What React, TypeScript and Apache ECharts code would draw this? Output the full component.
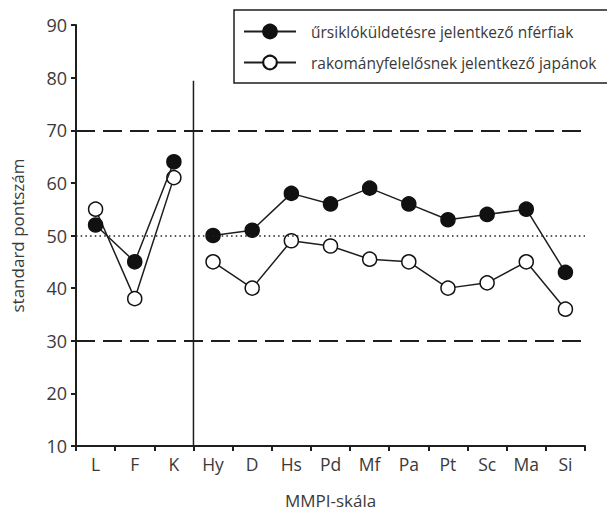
import React, { useEffect, useRef } from "react";
import * as echarts from "echarts";

const categories = ["L", "F", "K", "Hy", "D", "Hs", "Pd", "Mf", "Pa", "Pt", "Sc", "Ma", "Si"];
const applicants = [52, 45, 64, 50, 51, 58, 56, 59, 56, 53, 54, 55, 43];
const japanese = [55, 38, 61, 45, 40, 49, 48, 45.5, 45, 40, 41, 45, 36];
const seriesNames = [
  "űrsiklóküldetésre jelentkező nférfiak",
  "rakományfelelősnek jelentkező japánok",
];
const yMin = 10;
const yMax = 90;
const yInterval = 10;
const dashedLevels = [70, 30];
const dottedLevel = 50;
const validityCount = 3; // L, F, K are separated from the clinical scales
const separatorTop = 79.4;

const FONT = "'Open Sans', 'Noto Sans', sans-serif";
const INK = "#1e1e1e";
const TEXT = "#3a3a3a";

function split(values: number[], first: boolean) {
  return values.map((v, i) => ((i < validityCount) === first ? v : "-"));
}

export default function App() {
  const ref = useRef<HTMLDivElement>(null);
  useEffect(() => {
    if (!ref.current) return;
    const chart = echarts.init(ref.current, undefined, { renderer: "svg" });

    const mk = (name: string, data: any[], filled: boolean, extra: any = {}) => ({
      type: "line",
      name,
      data,
      xAxisIndex: 0,
      yAxisIndex: 0,
      symbol: "circle",
      symbolSize: 14,
      showAllSymbol: true,
      connectNulls: false,
      itemStyle: { color: filled ? "#111" : "#fff", borderColor: "#111", borderWidth: 1.5 },
      lineStyle: { color: INK, width: 1.5 },
      emphasis: { disabled: true },
      z: filled ? 4 : 3,
      ...extra,
    });

    const option: any = {
      animation: false,
      textStyle: { fontFamily: FONT },
      grid: { left: 76, right: 22, top: 25, bottom: 64 },
      legend: {
        data: seriesNames,
        orient: "vertical",
        left: 243,
        top: 23.5,
        padding: 0,
        itemWidth: 52,
        itemHeight: 17,
        itemGap: 15,
        selectedMode: false,
        textStyle: { fontFamily: FONT, fontSize: 15.5, color: TEXT, padding: [0, 0, 0, 10] },
      },
      graphic: [
        {
          type: "rect",
          shape: { x: 234, y: 10, width: 380, height: 73 },
          style: { fill: "none", stroke: INK, lineWidth: 1.5 },
          silent: true,
        },
      ],
      xAxis: [
        {
          type: "category",
          data: categories,
          boundaryGap: true,
          name: "MMPI-skála",
          nameLocation: "middle",
          nameGap: 46,
          nameTextStyle: { fontFamily: FONT, fontSize: 17, color: TEXT },
          axisLine: { lineStyle: { color: INK, width: 2 } },
          axisTick: { show: true, length: 5, interval: 0, lineStyle: { color: INK, width: 2 } },
          axisLabel: { interval: 0, fontFamily: FONT, fontSize: 17.5, color: TEXT, margin: 9 },
          splitLine: { show: false },
        },
        {
          type: "value",
          min: 0,
          max: categories.length,
          show: false,
        },
      ],
      yAxis: {
        type: "value",
        min: yMin,
        max: yMax,
        interval: yInterval,
        name: "standard pontszám",
        nameLocation: "middle",
        nameGap: 50,
        nameTextStyle: { fontFamily: FONT, fontSize: 17, color: TEXT },
        axisLine: { show: true, lineStyle: { color: INK, width: 2 } },
        axisTick: { show: true, length: 5, lineStyle: { color: INK, width: 2 } },
        axisLabel: { fontFamily: FONT, fontSize: 18, color: TEXT, margin: 9, padding: [0, 0, 5, 0] },
        splitLine: { show: false },
      },
      series: [
        {
          type: "line",
          xAxisIndex: 1,
          yAxisIndex: 0,
          data: [
            [validityCount, yMin],
            [validityCount, separatorTop],
          ],
          symbol: "none",
          lineStyle: { color: INK, width: 1.5 },
          silent: true,
          z: 1,
          markLine: {
            silent: true,
            symbol: ["none", "none"],
            label: { show: false },
            data: [
              ...dashedLevels.map((v) => ({
                yAxis: v,
                lineStyle: { color: INK, width: 2, type: [19, 8] },
              })),
              { yAxis: dottedLevel, lineStyle: { color: INK, width: 1.5, type: [1.5, 3.2] } },
            ],
          },
        },
        mk(seriesNames[0], split(applicants, true), true),
        mk(seriesNames[0], split(applicants, false), true),
        mk(seriesNames[1], split(japanese, true), false),
        mk(seriesNames[1], split(japanese, false), false),
      ],
    };
    chart.setOption(option);
    return () => chart.dispose();
  }, []);

  return (
    <div
      ref={ref}
      style={{ position: "fixed", left: 0, top: 0, width: 607, height: 514, background: "#fff" }}
    />
  );
}
